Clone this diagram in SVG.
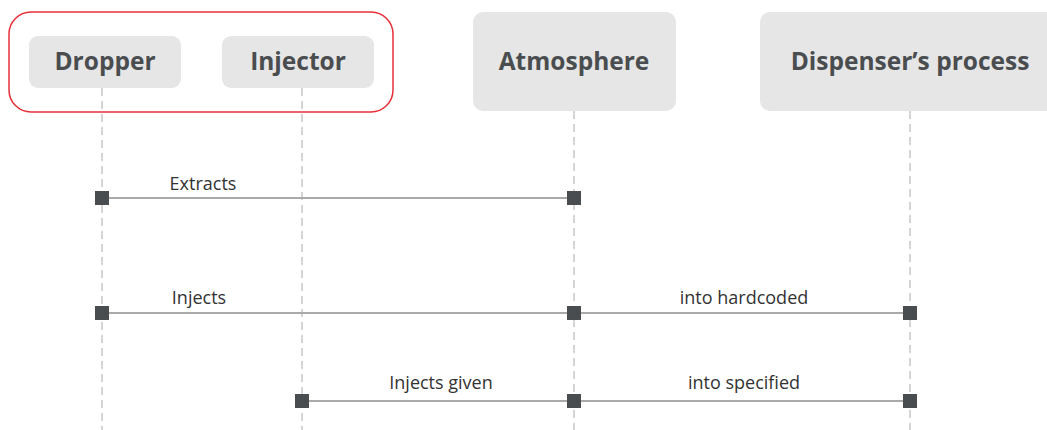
<svg xmlns="http://www.w3.org/2000/svg" width="1047" height="430" viewBox="0 0 1047 430">
<style>
.box{fill:#e6e6e6}
.title{font-family:"Open Sans","Liberation Sans",sans-serif;font-weight:bold;font-size:24.5px;fill:#4a4d4f;text-anchor:middle}
.lbl{font-family:"Open Sans","Liberation Sans",sans-serif;font-size:18px;fill:#333;text-anchor:middle}
.life{stroke:#aaa;stroke-width:1;stroke-dasharray:8 5;fill:none}
.msg{stroke:#aaa;stroke-width:2;fill:none}
.end{fill:#4a4d4f}
</style>
<rect x="9" y="12" width="384" height="100" rx="22" fill="none" stroke="#e8303a" stroke-width="1.5"/>
<g id="dropper"><rect class="box" x="29" y="36" width="152" height="52" rx="9"/><text class="title" x="105" y="70">Dropper</text></g>
<g id="injector"><rect class="box" x="222" y="36" width="152" height="52" rx="9"/><text class="title" x="298" y="70">Injector</text></g>
<g id="atmosphere"><rect class="box" x="473" y="12" width="203" height="99" rx="10"/><text class="title" x="574" y="70">Atmosphere</text></g>
<g id="dispenser"><rect class="box" x="760" y="12" width="300" height="99" rx="10"/><text class="title" x="910" y="70">Dispenser’s process</text></g>
<g id="connectors">
<line class="life" x1="102" y1="88" x2="102" y2="430"/>
<line class="life" x1="302" y1="88" x2="302" y2="430"/>
<line class="life" x1="574" y1="111" x2="574" y2="430"/>
<line class="life" x1="910" y1="111" x2="910" y2="430"/>
<line class="msg" x1="102" y1="198" x2="574" y2="198"/>
<line class="msg" x1="102" y1="313" x2="574" y2="313"/>
<line class="msg" x1="574" y1="313" x2="910" y2="313"/>
<line class="msg" x1="302" y1="401" x2="574" y2="401"/>
<line class="msg" x1="574" y1="401" x2="910" y2="401"/>
<rect class="end" x="95" y="191" width="14" height="14"/>
<rect class="end" x="567" y="191" width="14" height="14"/>
<rect class="end" x="95" y="306" width="14" height="14"/>
<rect class="end" x="567" y="306" width="14" height="14"/>
<rect class="end" x="903" y="306" width="14" height="14"/>
<rect class="end" x="295" y="394" width="14" height="14"/>
<rect class="end" x="567" y="394" width="14" height="14"/>
<rect class="end" x="903" y="394" width="14" height="14"/>
<text class="lbl" x="203" y="190">Extracts</text>
<text class="lbl" x="199" y="304">Injects</text>
<text class="lbl" x="744" y="304">into hardcoded</text>
<text class="lbl" x="441" y="389">Injects given</text>
<text class="lbl" x="744" y="389">into specified</text>
</g>
</svg>
